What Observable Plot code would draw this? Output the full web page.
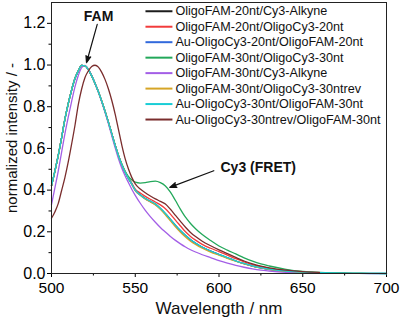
<!DOCTYPE html>
<html>
<head>
<meta charset="utf-8">
<script src="https://cdn.jsdelivr.net/npm/d3@7"></script>
<script src="https://cdn.jsdelivr.net/npm/@observablehq/plot@0.6"></script>
<style>
  html, body { margin: 0; padding: 0; background: #fff; }
  #chart { width: 400px; height: 326px; }
</style>
</head>
<body>
<div id="chart"></div>
<script>
// Emission wavelengths (nm)
const nm = [500,502,504,506,508,510,512,514,516,518,520,522,524,526,528,530,532,534,536,538,540,542,544,546,548,550,553,556,559,562,565,568,571,574,577,580,583,586,590,595,600,605,610,615,620,625,630,640,650,660,670,680,690,700];

// Normalized emission spectra (null = not measured)
const fam20Cy3Alkyne = [0.42,0.49,0.565,0.65,0.74,0.815,0.88,0.935,0.972,0.998,0.996,0.978,0.948,0.912,0.872,0.826,0.777,0.725,0.67,0.615,0.565,0.522,0.485,0.455,0.428,0.40,0.378,0.36,0.346,0.333,0.312,0.287,0.259,0.231,0.205,0.182,0.162,0.145,0.126,0.107,0.091,0.075,0.06,0.047,0.036,0.027,0.02,0.011,0.006,0.003,null,null,null,null];
const fam20OligoCy320 = [0.42,0.49,0.565,0.65,0.74,0.815,0.88,0.935,0.972,0.998,0.996,0.978,0.948,0.912,0.872,0.826,0.777,0.725,0.67,0.615,0.565,0.522,0.487,0.458,0.432,0.405,0.386,0.37,0.356,0.343,0.329,0.311,0.285,0.256,0.228,0.2,0.178,0.16,0.14,0.121,0.105,0.088,0.071,0.056,0.043,0.033,0.025,0.014,0.008,0.004,null,null,null,null];
const auCy320Fam20 = [0.42,0.49,0.565,0.65,0.74,0.815,0.88,0.935,0.972,0.998,0.996,0.978,0.948,0.912,0.872,0.826,0.777,0.725,0.67,0.615,0.565,0.522,0.485,0.455,0.428,0.399,0.376,0.358,0.345,0.331,0.31,0.285,0.257,0.229,0.204,0.181,0.161,0.145,0.126,0.107,0.091,0.075,0.06,0.047,0.036,0.027,0.02,0.011,0.006,0.003,0.002,0.001,0,0];
const fam30OligoCy330 = [0.42,0.49,0.565,0.65,0.74,0.815,0.88,0.935,0.972,0.998,0.996,0.978,0.948,0.912,0.872,0.826,0.777,0.725,0.67,0.615,0.565,0.525,0.49,0.465,0.448,0.438,0.434,0.436,0.441,0.443,0.436,0.42,0.39,0.35,0.308,0.27,0.24,0.215,0.187,0.158,0.132,0.112,0.094,0.075,0.059,0.046,0.036,0.02,0.01,0.005,0.003,0.002,0.001,0];
const fam30Cy3Alkyne = [0.33,0.41,0.49,0.58,0.67,0.75,0.825,0.895,0.95,0.988,0.998,0.98,0.95,0.912,0.87,0.822,0.772,0.718,0.66,0.603,0.55,0.505,0.468,0.435,0.403,0.375,0.337,0.303,0.273,0.246,0.221,0.199,0.178,0.159,0.142,0.127,0.114,0.103,0.09,0.076,0.062,0.05,0.039,0.03,0.022,0.016,0.012,0.006,0.003,0.001,null,null,null,null];
const fam30OligoCy330rev = [0.42,0.49,0.565,0.65,0.74,0.815,0.88,0.935,0.972,0.998,0.996,0.978,0.948,0.912,0.872,0.826,0.777,0.725,0.67,0.615,0.565,0.522,0.485,0.455,0.428,0.398,0.375,0.357,0.343,0.329,0.308,0.282,0.253,0.224,0.198,0.175,0.155,0.139,0.121,0.103,0.088,0.073,0.059,0.046,0.036,0.027,0.02,0.011,0.006,0.003,null,null,null,null];
const auCy330Fam30 = [0.42,0.49,0.565,0.65,0.74,0.815,0.88,0.935,0.972,0.998,0.996,0.978,0.948,0.912,0.872,0.826,0.777,0.725,0.67,0.615,0.565,0.522,0.485,0.455,0.428,0.40,0.377,0.36,0.347,0.334,0.313,0.288,0.26,0.232,0.206,0.183,0.163,0.146,0.127,0.108,0.092,0.076,0.061,0.048,0.037,0.028,0.021,0.012,0.007,0.004,0.002,0.001,0.001,0];
const auCy330revFam30 = [0.265,0.295,0.335,0.397,0.46,0.535,0.62,0.71,0.81,0.885,0.94,0.972,0.993,0.999,0.99,0.965,0.93,0.885,0.83,0.765,0.69,0.615,0.55,0.5,0.46,0.43,0.405,0.387,0.372,0.358,0.346,0.333,0.308,0.279,0.25,0.222,0.197,0.177,0.155,0.133,0.113,0.095,0.077,0.06,0.046,0.035,0.027,0.016,0.009,0.005,null,null,null,null];

const seriesNames = [
  "OligoFAM-20nt/Cy3-Alkyne",
  "OligoFAM-20nt/OligoCy3-20nt",
  "Au-OligoCy3-20nt/OligoFAM-20nt",
  "OligoFAM-30nt/OligoCy3-30nt",
  "OligoFAM-30nt/Cy3-Alkyne",
  "OligoFAM-30nt/OligoCy3-30ntrev",
  "Au-OligoCy3-30nt/OligoFAM-30nt",
  "Au-OligoCy3-30ntrev/OligoFAM-30nt"
];
const seriesValues = [fam20Cy3Alkyne, fam20OligoCy320, auCy320Fam20, fam30OligoCy330, fam30Cy3Alkyne, fam30OligoCy330rev, auCy330Fam30, auCy330revFam30];
const seriesColors = ["#1c1c1c", "#f23b3b", "#3169dc", "#23a85a", "#a35ee6", "#d6a526", "#19cdd6", "#7a2d2d"];

const xTicks = [500, 550, 600, 650, 700];
const xMinor = [525, 575, 625, 675];
const yTicks = [0, 0.2, 0.4, 0.6, 0.8, 1.0, 1.2];
const yMinor = [0.1, 0.3, 0.5, 0.7, 0.9, 1.1];

// Annotation labels and arrows (data units)
const famNote = [{text: "FAM", x: 528.1, y: 1.234}];
const fretNote = [{text: "Cy3 (FRET)", x: 600.9, y: 0.507}];
const pointers = [
  {x1: 527.3, y1: 1.195, x2: 520.9, y2: 1.011},
  {x1: 596.9, y1: 0.493, x2: 570.6, y2: 0.413}
];

// Long table for Plot
const rows = [];
seriesNames.forEach((name, s) => {
  nm.forEach((w, i) => {
    const v = seriesValues[s][i];
    if (v != null) rows.push({nm: w, v, series: name});
  });
});

// Legend rows, laid out in the upper right of the frame
const legendTop = 1.258, legendStep = 0.0742;
const legendRows = seriesNames.map((name, i) => ({name, y: legendTop - i * legendStep}));

const chart = Plot.plot({
  width: 400,
  height: 326,
  marginLeft: 51,
  marginRight: 14,
  marginTop: 2,
  marginBottom: 53,
  style: {fontFamily: "'Liberation Sans', Arial, sans-serif", fontSize: "16px", color: "#000", background: "#fff"},
  x: {domain: [500, 700]},
  y: {domain: [0, 1.3]},
  color: {domain: seriesNames, range: seriesColors},
  marks: [
    Plot.axisX({ticks: xTicks, tickSize: 4, tickPadding: 4, tickFormat: d => String(d), label: null, fontSize: 15.5}),
    Plot.axisX({ticks: xMinor, tickSize: 2.5, tickFormat: () => "", label: null}),
    Plot.axisY({ticks: yTicks, tickSize: 4, tickPadding: 2, tickFormat: d3.format(".1f"), label: null, fontSize: 16}),
    Plot.axisY({ticks: yMinor, tickSize: 2.5, tickFormat: () => "", label: null}),
    Plot.line(rows, {x: "nm", y: "v", z: "series", stroke: "series", strokeWidth: 1.3, curve: "monotone-x"}),
    Plot.frame({stroke: "#222", strokeWidth: 1}),
    Plot.link(legendRows, {x1: () => 556.1, x2: () => 572.2, y1: "y", y2: "y", stroke: "name", strokeWidth: 2}),
    Plot.text(legendRows, {x: () => 574, y: "y", text: "name", textAnchor: "start", fontSize: 12.6, fill: "#111"}),
    Plot.text(famNote, {x: "x", y: "y", text: "text", textAnchor: "middle", fontSize: 14, fontWeight: "bold", fill: "#111"}),
    Plot.text(fretNote, {x: "x", y: "y", text: "text", textAnchor: "start", fontSize: 14, fontWeight: "bold", fill: "#111"}),
    Plot.arrow(pointers, {x1: "x1", y1: "y1", x2: "x2", y2: "y2", stroke: "#111", fill: "#111", strokeWidth: 1.2, headLength: 9, headAngle: 40}),
    Plot.text(["normalized intensity / -"], {frameAnchor: "left", textAnchor: "middle", rotate: -90, dx: -39, fontSize: 15, fill: "#111"}),
    Plot.text(["Wavelength / nm"], {frameAnchor: "bottom", dy: 40, fontSize: 17, fill: "#111"})
  ]
});
document.getElementById("chart").appendChild(chart);
</script>
</body>
</html>
